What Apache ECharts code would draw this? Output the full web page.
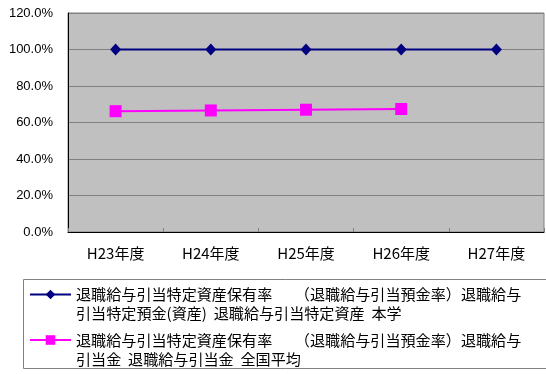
<!DOCTYPE html>
<html><head><meta charset="utf-8">
<script src="https://cdn.jsdelivr.net/npm/echarts@6/dist/echarts.min.js"></script>
<style>html,body{margin:0;padding:0;background:#fff}#c{width:546px;height:374px}</style>
</head><body><div id="c"></div>
<script>
const categories = ['H23年度','H24年度','H25年度','H26年度','H27年度'];
const yTicks = [0, 20, 40, 60, 80, 100, 120];
const seriesNames = [
  '退職給与引当特定資産保有率　　（退職給与引当預金率）退職給与\n引当特定預金(資産)  退職給与引当特定資産  本学',
  '退職給与引当特定資産保有率　　（退職給与引当預金率）退職給与\n引当金  退職給与引当金  全国平均'
];
const honbuValues = [100, 100, 100, 100, 100];
const zenkokuValues = [66.2, 66.6, 67.0, 67.4, null];

const chart = echarts.init(document.getElementById('c'), null, {renderer:'canvas'});
const jp = '"Noto Sans CJK JP", sans-serif';
chart.setOption({
  animation: false,
  backgroundColor: '#fff',
  grid: {left: 68, right: 2, top: 13, bottom: 142, show: true, backgroundColor: '#C0C0C0', borderColor: '#808080', borderWidth: 1},
  xAxis: {
    type: 'category', data: categories, boundaryGap: true,
    axisLine: {lineStyle: {color: '#000', width: 1}},
    axisTick: {show: true, inside: true, length: 4, lineStyle: {color: '#808080'}},
    axisLabel: {color: '#000', fontSize: 15, fontFamily: jp, margin: 14}
  },
  yAxis: {
    type: 'value', min: yTicks[0], max: yTicks[yTicks.length-1], interval: 20,
    axisLine: {show: true, lineStyle: {color: '#000', width: 1}},
    axisTick: {show: false},
    splitLine: {lineStyle: {color: '#808080', width: 1}},
    axisLabel: {color: '#000', fontSize: 13, fontFamily: 'Liberation Sans, Arial, sans-serif', margin: 15,
      formatter: v => v.toFixed(1) + '%'}
  },
  legend: {
    orient: 'vertical', left: 29, top: 266, padding: 0,
    itemWidth: 41, itemHeight: 12, itemGap: -11.5, itemTextGap: 5,
    textStyle: {color: '#000', fontSize: 15.1, fontFamily: jp, lineHeight: 19},
    formatter: name => '\n' + name,
    data: seriesNames
  },
  graphic: [{type: 'rect', shape: {x: 23.5, y: 279.5, width: 540, height: 89}, style: {fill: 'none', stroke: '#808080', lineWidth: 1}, z: 10}],
  series: [
    {name: seriesNames[0], type: 'line', data: honbuValues, symbol: 'diamond', symbolSize: [11,12],
     lineStyle: {color: '#000080', width: 2}, itemStyle: {color: '#000080'}},
    {name: seriesNames[1], type: 'line', data: zenkokuValues, symbol: 'rect', symbolSize: 12,
     lineStyle: {color: '#FF00FF', width: 2}, itemStyle: {color: '#FF00FF'}}
  ]
});
</script></body></html>
